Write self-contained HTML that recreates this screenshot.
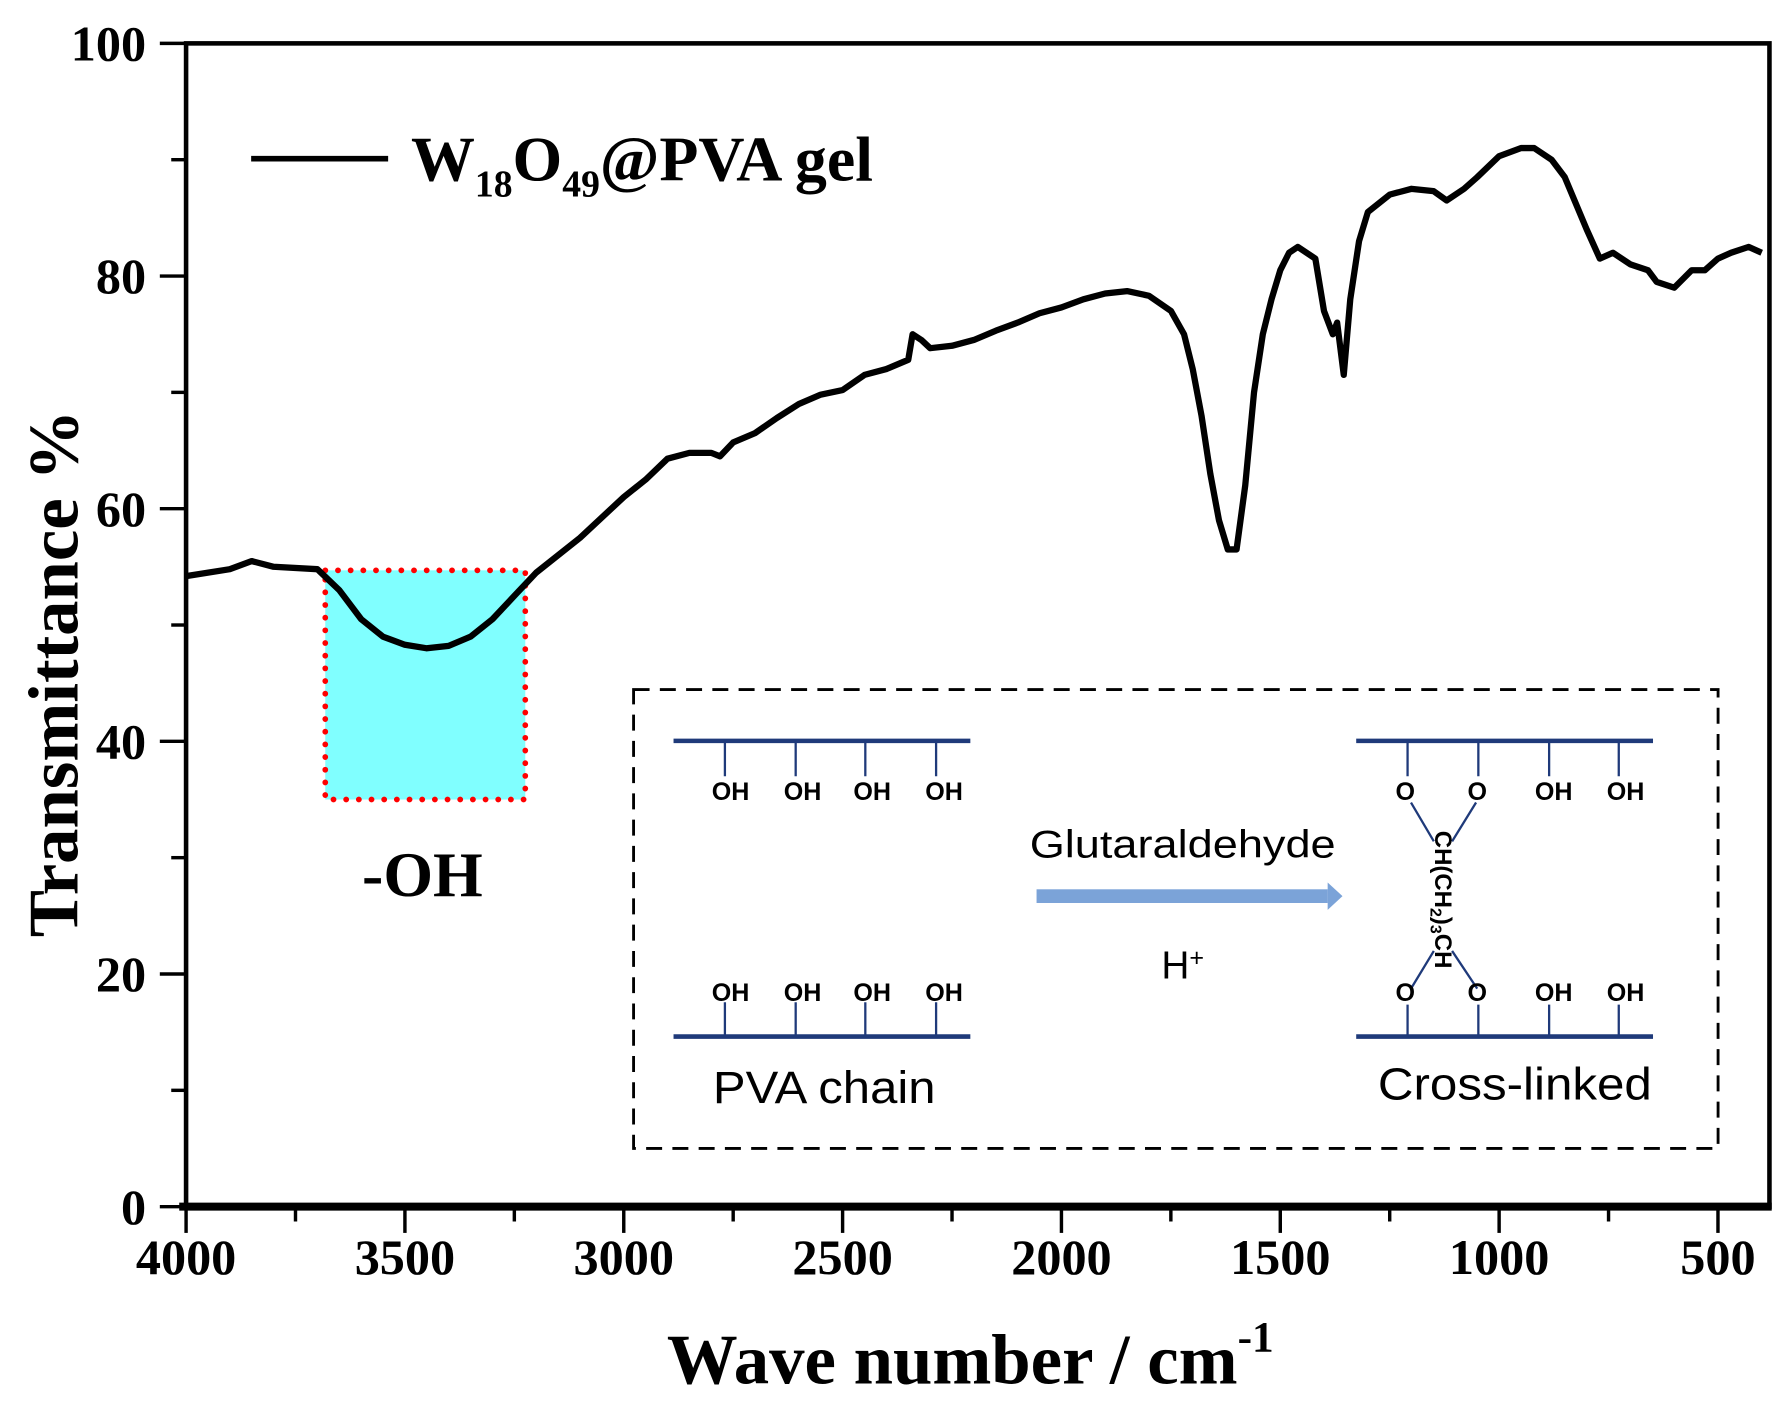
<!DOCTYPE html>
<html><head><meta charset="utf-8"><style>
html,body{margin:0;padding:0;background:#fff;}
svg{display:block;}
.serif{font-family:"Liberation Serif",serif;font-weight:bold;}
.sans{font-family:"Liberation Sans",sans-serif;}
</style></head><body>
<svg id="chart" width="1790" height="1411" viewBox="0 0 1568 1236" xmlns="http://www.w3.org/2000/svg">
<g id="axes"></g>
<rect id="ohbox" fill="#80ffff" stroke="#ff0000" stroke-width="5" stroke-dasharray="0.1 11" stroke-linecap="round"/>
<path id="curve" fill="none" stroke="#000" stroke-width="5.5" stroke-linejoin="round"/>
<text class="serif" x="370" y="785" font-size="56" text-anchor="middle">-OH</text>
<g>
<line x1="220" y1="139" x2="340" y2="139" stroke="#000" stroke-width="5"/>
<text class="serif" x="360" y="158" font-size="56">W<tspan font-size="33" dy="14">18</tspan><tspan dy="-14">O</tspan><tspan font-size="33" dy="14">49</tspan><tspan dy="-14">@PVA gel</tspan></text>
</g>
<g stroke="#1f3a7a" fill="none">
<rect x="555" y="604" width="950" height="402" stroke="#000" stroke-width="2.5" stroke-dasharray="14 9"/>
<path d="M590 649H850" stroke-width="4"/>
<path d="M590 908H850" stroke-width="4"/>
<path d="M635 649V680M697 649V680M758 649V680M820 649V680M635 908V878M697 908V878M758 908V878M820 908V878" stroke-width="2"/>
<path d="M1188 649H1448" stroke-width="4"/>
<path d="M1188 908H1448" stroke-width="4"/>
<path d="M1233 649V680M1295 649V680M1357 649V680M1418 649V680M1233 908V880M1295 908V880M1357 908V880M1418 908V880M1236 703L1256 737M1293 703L1272 737M1256 833L1236 866M1272 833L1294 866" stroke-width="2"/>
</g>
<g class="sans" font-size="22" font-weight="bold" text-anchor="middle" fill="#000">
<text x="640" y="701">OH</text><text x="703" y="701">OH</text><text x="764" y="701">OH</text><text x="827" y="701">OH</text>
<text x="640" y="877">OH</text><text x="703" y="877">OH</text><text x="764" y="877">OH</text><text x="827" y="877">OH</text>
<text x="1231" y="701">O</text><text x="1294" y="701">O</text><text x="1361" y="701">OH</text><text x="1424" y="701">OH</text>
<text x="1231" y="877">O</text><text x="1294" y="877">O</text><text x="1361" y="877">OH</text><text x="1424" y="877">OH</text>
<text transform="translate(1257,788) rotate(90)" font-size="21">CH(CH<tspan font-size="14" dy="4">2</tspan><tspan dy="-4">)</tspan><tspan font-size="14" dy="4">3</tspan><tspan dy="-4">CH</tspan></text>
</g>
<g class="sans" fill="#000" text-anchor="middle">
<text x="722" y="966" font-size="40" textLength="195" lengthAdjust="spacingAndGlyphs">PVA chain</text>
<text x="1327" y="963" font-size="40" textLength="240" lengthAdjust="spacingAndGlyphs">Cross-linked</text>
<text x="1036" y="751" font-size="34" textLength="268" lengthAdjust="spacingAndGlyphs">Glutaraldehyde</text>
<text x="1036" y="857" font-size="34">H<tspan font-size="22" dy="-11">+</tspan></text>
</g>
<g>
<rect x="908" y="779" width="255" height="12" fill="#7ba3d8"/>
<path d="M1163 773L1176 785L1163 797Z" fill="#7ba3d8"/>
</g>
</svg>
<script>
const xTicks=[4000,3500,3000,2500,2000,1500,1000,500];
const yTicks=[0,20,40,60,80,100];
const waveNumbers=[4000,3900,3850,3800,3700,3650,3600,3550,3500,3450,3400,3350,3300,3250,3200,3100,3000,2950,2900,2850,2800,2780,2750,2700,2650,2600,2550,2500,2450,2400,2350,2340,2320,2300,2250,2200,2150,2100,2050,2000,1950,1900,1850,1800,1750,1720,1700,1680,1660,1640,1620,1600,1580,1560,1540,1520,1500,1480,1460,1440,1420,1400,1380,1370,1355,1340,1320,1300,1250,1200,1150,1120,1080,1050,1000,950,920,880,850,800,770,740,700,660,640,600,560,530,500,470,430,400];
const transmittance=[54.2,54.8,55.5,55,54.8,53,50.5,49,48.3,48,48.2,49,50.5,52.5,54.5,57.5,61,62.5,64.3,64.8,64.8,64.5,65.7,66.5,67.8,69,69.8,70.2,71.5,72,72.8,75,74.5,73.8,74,74.5,75.3,76,76.8,77.3,78,78.5,78.7,78.3,77,75,72,68,63,59,56.5,56.5,62,70,75,78,80.5,82,82.5,82,81.5,77,75,76,71.5,78,83,85.5,87,87.5,87.3,86.5,87.5,88.5,90.3,91,91,90,88.5,84,81.5,82,81,80.5,79.5,79,80.5,80.5,81.5,82,82.5,82];
const ohRegion=[3682,3225,54.7,35];
const X=w=>163+(4000-w)/500*191.7;
const Y=v=>1057-v/100*1019;
const NS='http://www.w3.org/2000/svg';
const ax=document.getElementById('axes');
function mk(tag,attrs,parent){const e=document.createElementNS(NS,tag);for(const k in attrs)e.setAttribute(k,attrs[k]);parent.appendChild(e);return e;}
const frame=mk('rect',{x:163,y:38,width:1387,height:1019,fill:'none',stroke:'#000','stroke-width':4},ax);


const bot=mk('line',{x1:157,y1:1057,x2:1552,y2:1057,stroke:'#000','stroke-width':7},ax);


for(let w=4000;w>=450;w-=250){const major=w%500===0;const t=mk('line',{x1:X(w),x2:X(w),y1:1057,y2:1057+(major?23:13),stroke:'#000','stroke-width':3},ax);

}
xTicks.forEach(w=>{const t=mk('text',{x:X(w),y:1116,'font-size':44,'text-anchor':'middle',class:'serif'},ax);t.textContent=w;

});
for(let v=0;v<=100;v+=10){const major=v%20===0;const t=mk('line',{x1:163-(major?23:13),x2:163,y1:Y(v),y2:Y(v),stroke:'#000','stroke-width':3},ax);

}
yTicks.forEach(v=>{const t=mk('text',{x:128,y:Y(v)+15,'font-size':44,'text-anchor':'end',class:'serif'},ax);t.textContent=v;

});
const xt=mk('text',{x:850,y:1212,'font-size':62,'text-anchor':'middle',class:'serif'},ax);
xt.innerHTML='Wave number / cm<tspan font-size="38" dy="-28">-1</tspan>';


const yt=mk('text',{transform:'translate(68,590) rotate(-90)','font-size':62,'text-anchor':'middle',class:'serif'},ax);
yt.textContent='Transmittance %';


const b=document.getElementById('ohbox');
b.setAttribute('x',X(ohRegion[0]));b.setAttribute('width',X(ohRegion[1])-X(ohRegion[0]));
b.setAttribute('y',Y(ohRegion[2]));b.setAttribute('height',Y(ohRegion[3])-Y(ohRegion[2]));
let d='';waveNumbers.forEach((w,i)=>{d+=(i?'L':'M')+X(w).toFixed(1)+' '+Y(transmittance[i]).toFixed(1);});
document.getElementById('curve').setAttribute('d',d);
</script>
</body></html>
